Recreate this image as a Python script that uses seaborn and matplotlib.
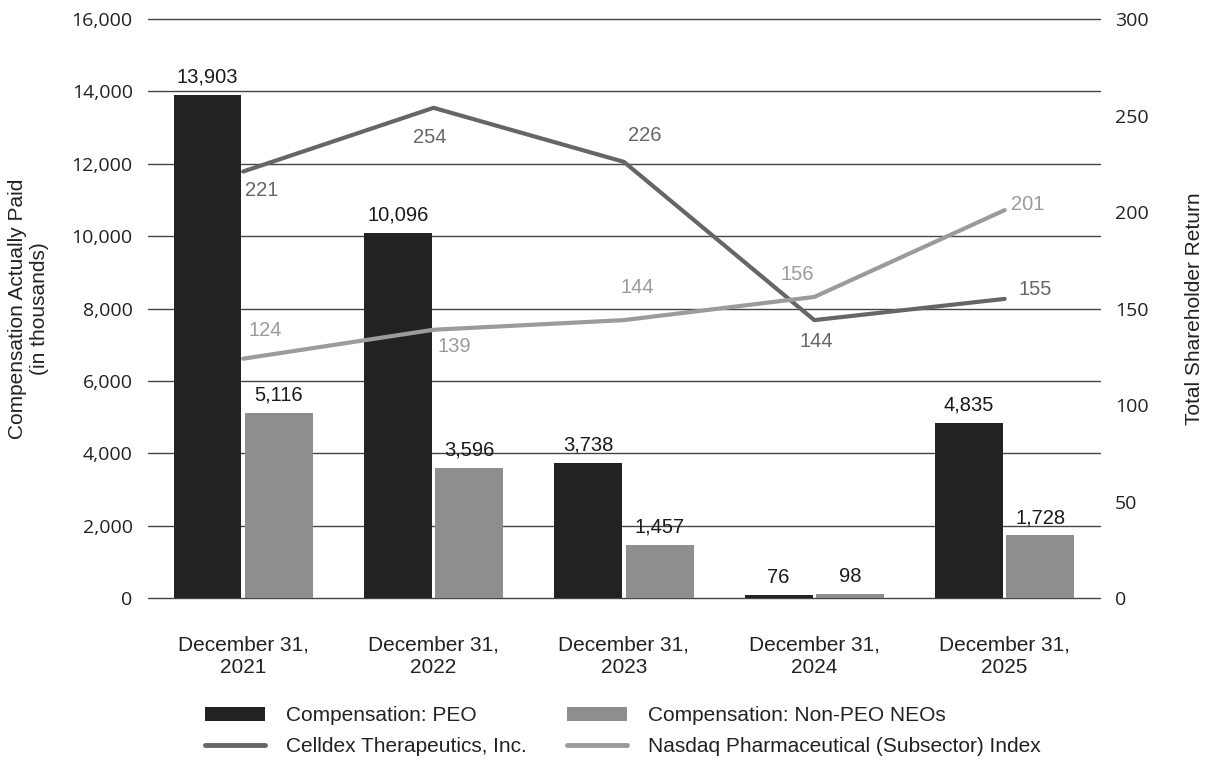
import matplotlib
matplotlib.use("Agg")
import matplotlib.pyplot as plt
from matplotlib.patches import Patch
from matplotlib.lines import Line2D
import seaborn as sns
import pandas as pd

# Fiscal year-end labels
years = ["December 31,\n2021", "December 31,\n2022", "December 31,\n2023",
         "December 31,\n2024", "December 31,\n2025"]

# Compensation actually paid (in thousands)
peo_cap = [13903, 10096, 3738, 76, 4835]
non_peo_cap = [5116, 3596, 1457, 98, 1728]

# Total shareholder return
celldex_tsr = [221, 254, 226, 144, 155]
nasdaq_tsr = [124, 139, 144, 156, 201]

bar_names = ["Compensation: PEO", "Compensation: Non-PEO NEOs"]
line_names = ["Celldex Therapeutics, Inc.", "Nasdaq Pharmaceutical (Subsector) Index"]

c_peo, c_non = "#222222", "#8e8e8e"
c_cel, c_nas = "#666666", "#9b9b9b"
txt = "#222222"

sns.set_theme(style="white")
plt.rcParams["font.family"] = ["Liberation Sans", "DejaVu Sans"]
plt.rcParams["font.size"] = 15
tick_font = ["Open Sans", "DejaVu Sans"]

bars = pd.DataFrame({
    "year": years * 2,
    "value": peo_cap + non_peo_cap,
    "series": [bar_names[0]] * 5 + [bar_names[1]] * 5,
})
lines = pd.DataFrame({
    "pos": list(range(len(years))) * 2,
    "tsr": celldex_tsr + nasdaq_tsr,
    "series": [line_names[0]] * 5 + [line_names[1]] * 5,
})

fig = plt.figure(figsize=(12.06, 7.62), dpi=100)
ax = fig.add_axes([0.1227, 0.2152, 0.7893, 0.7598])

sns.barplot(data=bars, x="year", y="value", hue="series", order=years,
            hue_order=bar_names, palette=[c_peo, c_non], width=0.75, gap=0.05,
            saturation=1, linewidth=0, legend=False, ax=ax, zorder=2)
for cont in ax.containers:
    ax.bar_label(cont, labels=[f"{v:,.0f}" for v in cont.datavalues],
                 padding=6, fontsize=14.5, color="#1a1a1a")

ax.set_ylim(0, 16000)
ax.set_yticks(range(0, 16001, 2000))
ax.set_yticklabels([f"{v:,}" for v in range(0, 16001, 2000)],
                   family=tick_font, fontsize=14)
ax.set_xlim(-0.5, len(years) - 0.5)
ax.yaxis.grid(True, color="#444444", linewidth=1.0)
for gl in ax.get_ygridlines():
    gl.set_clip_on(False)
ax.set_axisbelow(True)
ax.set_xlabel("")
ax.set_ylabel("Compensation Actually Paid\n(in thousands)", fontsize=15,
              labelpad=16, color=txt)
ax.tick_params(axis="both", length=0, colors=txt)
ax.tick_params(axis="x", pad=27, labelsize=15)
ax.tick_params(axis="y", pad=11)
for s in ax.spines.values():
    s.set_visible(False)

ax2 = ax.twinx()
sns.lineplot(data=lines, x="pos", y="tsr", hue="series", hue_order=line_names,
             palette=[c_cel, c_nas], linewidth=3, legend=False, ax=ax2, zorder=3,
             solid_capstyle="round")
ax2.set_ylim(0, 300)
ax2.set_yticks(range(0, 301, 50))
ax2.set_yticklabels([str(v) for v in range(0, 301, 50)], family=tick_font, fontsize=14)
ax2.set_xlim(-0.5, len(years) - 0.5)
ax2.set_ylabel("Total Shareholder Return", fontsize=15, labelpad=26, color=txt)
ax2.tick_params(axis="y", length=0, colors=txt, pad=11)
for s in ax2.spines.values():
    s.set_visible(False)

# Data labels for the return lines (pixel offsets of label centres from each point)
cel_offsets = [(19, -19), (-4, -30), (21, 26), (2, -21), (31, 9)]
nas_offsets = [(22, 28), (21, -17), (13, 33), (-17, 22), (23, 6)]
for series, color, offs in [(celldex_tsr, c_cel, cel_offsets),
                            (nasdaq_tsr, c_nas, nas_offsets)]:
    for i, (v, (dx, dy)) in enumerate(zip(series, offs)):
        ax2.annotate(f"{v}", (i, v), xytext=(dx, dy), textcoords="offset pixels",
                     ha="center", va="center", fontsize=14.5, color=color)

# Legend laid out row by row (matplotlib fills columns first)
handles = [
    Patch(facecolor=c_peo, edgecolor="none", label=bar_names[0]),
    Line2D([], [], color=c_cel, linewidth=3.5, label=line_names[0]),
    Patch(facecolor=c_non, edgecolor="none", label=bar_names[1]),
    Line2D([], [], color=c_nas, linewidth=3.5, label=line_names[1]),
]
leg = fig.legend(handles=handles, ncol=2, loc="upper left",
                 bbox_to_anchor=(0.170, 0.073), bbox_transform=fig.transFigure,
                 frameon=False, fontsize=15, handlelength=2.9, handleheight=0.6,
                 handletextpad=1.0, columnspacing=1.9, labelspacing=0.55,
                 borderaxespad=0, borderpad=0)
for t in leg.get_texts():
    t.set_color(txt)

fig.savefig("out.png", dpi=100)
